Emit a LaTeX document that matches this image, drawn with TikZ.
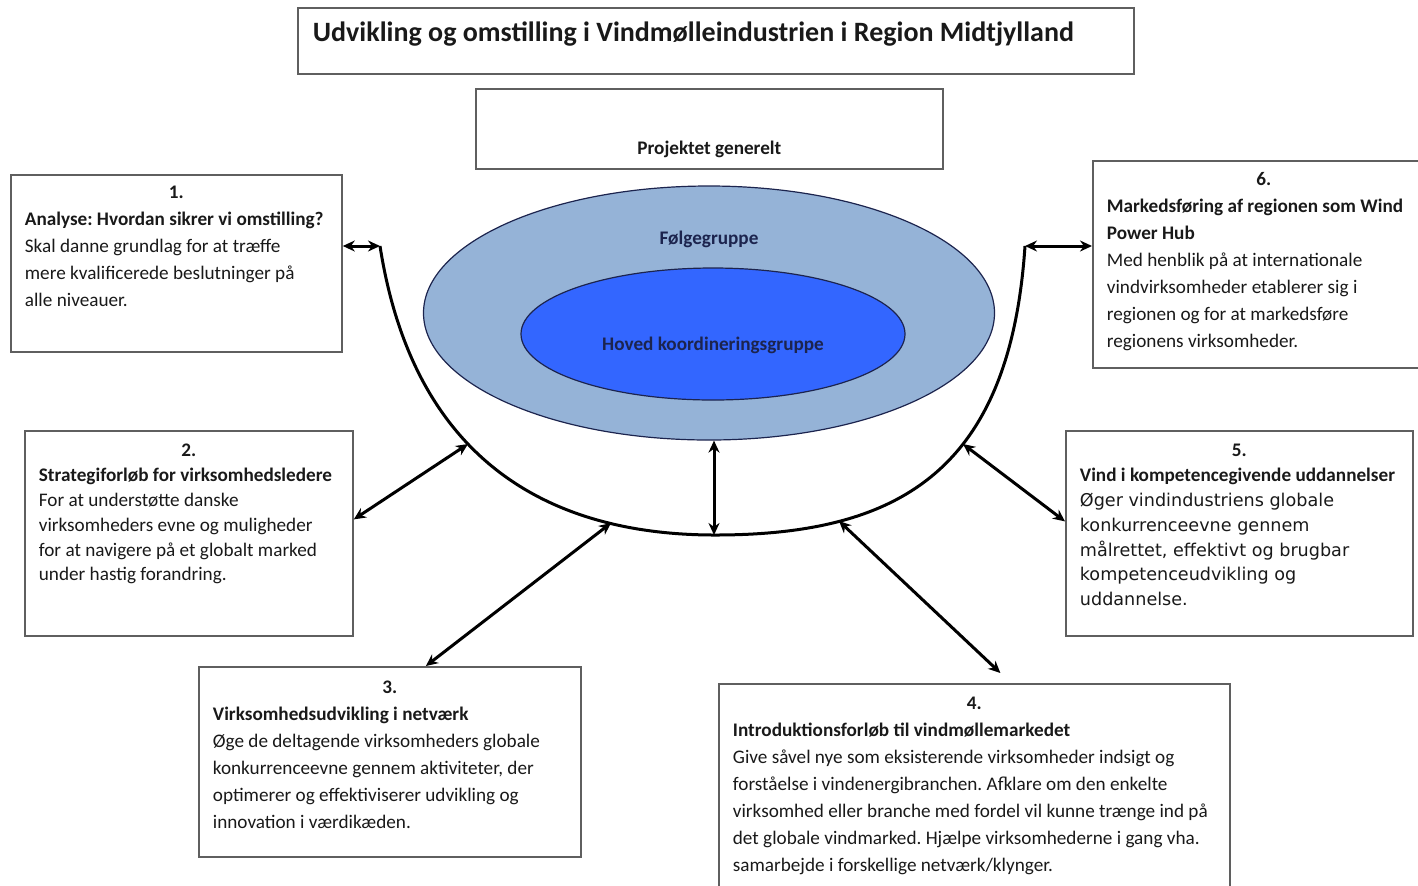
\documentclass[tikz,border=0pt]{standalone}
\usepackage{fontspec}
\setmainfont{Carlito}
\newfontfamily\verdana{DejaVu Sans}
\usetikzlibrary{shapes.geometric,arrows.meta}
\definecolor{boxgray}{RGB}{95,95,95}
\definecolor{txt}{RGB}{25,25,25}
\definecolor{lightblue}{RGB}{149,179,215}
\definecolor{brightblue}{RGB}{51,102,255}
\definecolor{navy}{RGB}{28,36,78}
\frenchspacing
\begin{document}
\begin{tikzpicture}[x=0.5pt,y=-0.5pt,>={Stealth[length=6pt,width=5.5pt]},
  box/.style={draw=boxgray,line width=0.9pt,anchor=north west,inner xsep=7pt,inner ysep=0pt,text=txt,font=\fontsize{9.6}{13.5}\selectfont},
  group/.style={ellipse,draw=navy,line width=0.6pt,inner sep=0pt},
  grouplbl/.style={anchor=base,inner sep=0pt,text=navy,font=\fontsize{9.6}{12}\selectfont\bfseries},
  link/.style={<->,line width=1.5pt},
  bowl/.style={line width=1.5pt}]
\useasboundingbox (0,0) rectangle (1418,885);

% title and project
\node[box,inner xsep=7.5pt,font=\fontsize{14}{16}\selectfont\bfseries] (title) at (297,7)
  {\parbox[c][33pt][t]{403pt}{\rule{0pt}{17pt}Udvikling og omstilling i Vindmølleindustrien i Region Midtjylland}};
\node[box,inner xsep=0pt,font=\fontsize{9.6}{12}\selectfont\bfseries] (proj) at (475,88)
  {\parbox[c][40pt][t]{233.5pt}{\centering\rule{0pt}{33pt}Projektet generelt}};

% groups
\node[group,fill=lightblue,minimum width=285.5pt,minimum height=127pt] (fg) at (709,313) {};
\node[group,fill=brightblue,minimum width=192pt,minimum height=66pt] (hk) at (713,334) {};
\node[grouplbl] (fglbl) at ([yshift=-29.5pt]fg.north) {Følgegruppe};
\node[grouplbl] (hklbl) at ([yshift=-8.25pt]hk.center) {Hoved koordineringsgruppe};

% the six boxes
\node[box] (box1) at (10,174) {\parbox[c][88.5pt][t]{151.5pt}{%
  {\centering\bfseries\rule{0pt}{12pt}1.\par}\rightskip=-50pt plus 1fil\relax
  \textbf{Analyse: Hvordan sikrer vi omstilling?}\\
  Skal danne grundlag for at træffe\\
  mere kvalificerede beslutninger på\\
  alle niveauer.}};
\node[box,font=\fontsize{9.6}{12.4}\selectfont] (box2) at (24,430) {\parbox[c][102.5pt][t]{150pt}{%
  {\centering\bfseries\rule{0pt}{13pt}2.\par}\rightskip=-50pt plus 1fil\relax
  \textbf{Strategiforløb for virksomhedsledere}\\
  For at understøtte danske\\
  virksomheders evne og muligheder\\
  for at navigere på et globalt marked\\
  under hastig forandring.}};
\node[box] (box3) at (198,666) {\parbox[c][95pt][t]{177pt}{%
  {\centering\bfseries\rule{0pt}{13.5pt}3.\par}\rightskip=-50pt plus 1fil\relax
  \textbf{Virksomhedsudvikling i netværk}\\
  Øge de deltagende virksomheders globale\\
  konkurrenceevne gennem aktiviteter, der\\
  optimerer og effektiviserer udvikling og\\
  innovation i værdikæden.}};
\node[box] (box4) at (718,683) {\parbox[c][103.5pt][t]{241.5pt}{%
  {\centering\bfseries\rule{0pt}{13pt}4.\par}\rightskip=-50pt plus 1fil\relax
  \textbf{Introduktionsforløb til vindmøllemarkedet}\\
  Give såvel nye som eksisterende virksomheder indsigt og\\
  forståelse i vindenergibranchen. Afklare om den enkelte\\
  virksomhed eller branche med fordel vil kunne trænge ind på\\
  det globale vindmarked. Hjælpe virksomhederne i gang vha.\\
  samarbejde i forskellige netværk/klynger.}};
\node[box,font=\fontsize{9.6}{12.4}\selectfont] (box5) at (1065,430) {\parbox[c][102.5pt][t]{159.5pt}{%
  {\centering\bfseries\rule{0pt}{13pt}5.\par}\rightskip=-50pt plus 1fil\relax
  \textbf{Vind i kompetencegivende uddannelser}\par
  {\verdana\fontsize{8.8}{12.4}\selectfont Øger vindindustriens globale\\
  konkurrenceevne gennem\\
  målrettet, effektivt og brugbar\\
  kompetenceudvikling og\\
  uddannelse.\par}}};
\node[box] (box6) at (1092,160) {\parbox[c][103.5pt][t]{157pt}{%
  {\centering\bfseries\rule{0pt}{12.5pt}6.\par}\rightskip=-50pt plus 1fil\relax
  \textbf{Markedsføring af regionen som Wind}\\
  \textbf{Power Hub}\\
  Med henblik på at internationale\\
  vindvirksomheder etablerer sig i\\
  regionen og for at markedsføre\\
  regionens virksomheder.}};

% bowl under the groups
\coordinate (h1) at (380,246);
\coordinate (h2) at (468,444);
\coordinate (h3) at (611,523);
\coordinate (h0) at (714,535);
\coordinate (h4) at (839,521);
\coordinate (h5) at (963,444);
\coordinate (h6) at (1025,246);
\draw[bowl] (h1) .. controls (415,470) and (560,535) .. (715,535) .. controls (900,535) and (1010,470) .. (h6);

% arrows
\draw[link] (box1.east |- h1) -- (h1);
\draw[link] (h6) -- (box6.west |- h6);
\draw[link] ([yshift=7pt]box2.east) -- (h2);
\draw[link] ([xshift=18pt]box3.north) -- (h3);
\draw[link] (fg.south -| h0) -- (h0);
\draw[link] (h4) -- ([xshift=13pt,yshift=5pt]box4.north);
\draw[link] (h5) -- ([yshift=6pt]box5.west);
\end{tikzpicture}
\end{document}
